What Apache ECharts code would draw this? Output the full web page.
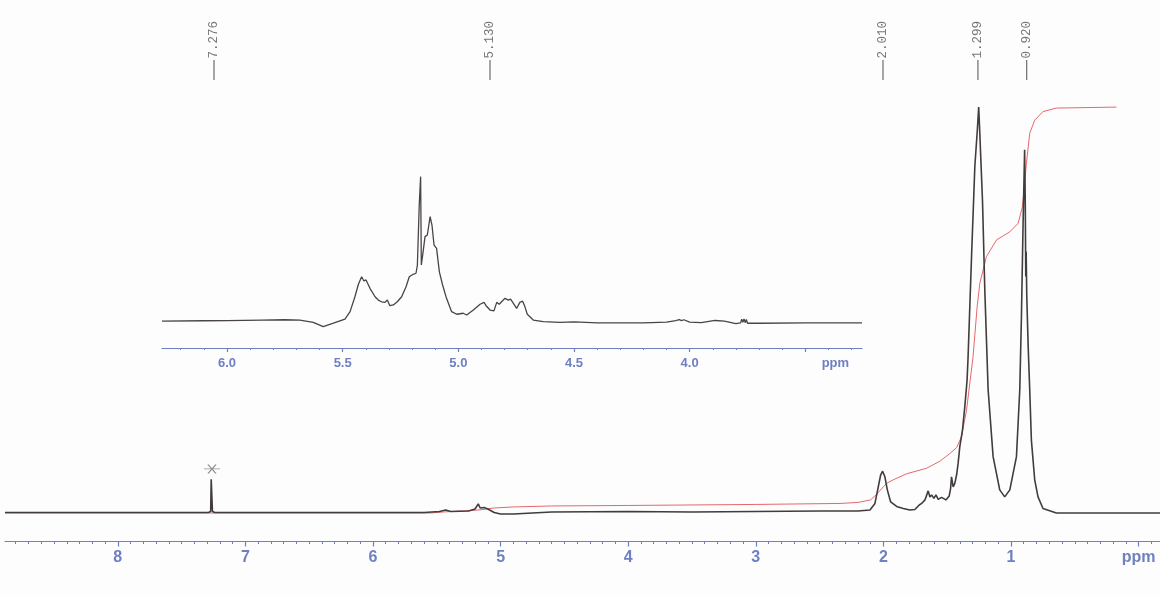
<!DOCTYPE html>
<html>
<head>
<meta charset="utf-8">
<script src="https://cdn.jsdelivr.net/npm/echarts@6/dist/echarts.min.js"></script>
<style>
html,body{margin:0;padding:0;background:#fdfdfd;}
#c{width:1160px;height:597px;}
</style>
</head>
<body>
<div id="c"></div>
<script>
// ---------- DATA ----------
// main 1H spectrum trace: [ppm, intensity]
const mainTrace = [
  [8.884,0.1],[8.0,0.1],[7.4,0.1],[7.29,0.1],[7.272,0.3],[7.268,6.7],[7.262,6.7],[7.258,0.3],[7.24,0.1],
  [6.5,0.1],[6.0,0.1],[5.6,0.1],[5.48,0.3],[5.43,0.6],[5.39,0.3],[5.25,0.4],[5.2,0.8],[5.175,1.8],[5.165,1.8],
  [5.16,1.0],[5.13,1.1],[5.1,0.8],[5.05,0.1],[5.0,-0.2],[4.9,-0.2],[4.6,0.2],[4.0,0.3],[3.5,0.2],[3.0,0.3],
  [2.5,0.4],[2.2,0.4],[2.105,0.6],[2.066,1.9],[2.040,5.2],[2.021,7.6],[2.006,8.3],[1.988,7.2],[1.969,4.6],
  [1.943,2.2],[1.896,1.3],[1.844,0.9],[1.792,0.6],[1.753,0.7],[1.719,1.6],[1.700,1.9],[1.674,2.6],[1.649,4.4],
  [1.635,3.2],[1.622,3.6],[1.604,2.9],[1.588,3.6],[1.570,2.7],[1.544,3.1],[1.510,2.6],[1.484,3.4],[1.473,4.9],
  [1.466,7.2],[1.453,5.2],[1.440,5.9],[1.426,7.6],[1.414,9.9],[1.401,13.2],[1.380,16.5],[1.362,21.1],[1.344,26.4],
  [1.336,31.1],[1.309,51.0],[1.283,69.0],[1.264,76.0],[1.253,80.7],[1.245,76.0],[1.223,62.0],[1.205,44.3],
  [1.179,24.5],[1.140,11.2],[1.088,4.6],[1.049,3.2],[1.009,4.6],[0.957,11.2],[0.931,24.5],[0.918,39.0],
  [0.905,57.6],[0.893,72.2],[0.888,62.0],[0.884,47.0],[0.881,52.0],[0.876,43.0],[0.865,33.0],[0.853,24.5],
  [0.840,14.5],[0.814,6.6],[0.788,3.2],[0.749,0.9],[0.644,0.0],[0.3,0.0],[-0.168,0.0]
];
// integral curve (red): [ppm, value]
const integralCurve = [
  [8.884,0],[5.55,0],[5.45,0.2],[5.3,0.4],[5.17,0.6],[5.05,1.0],[4.9,1.2],[4.6,1.4],[4.0,1.5],[3.0,1.7],
  [2.34,1.9],[2.2,2.1],[2.1,2.6],[2.05,3.8],[2.0,5.2],[1.974,5.9],[1.923,6.6],[1.818,7.8],[1.661,8.9],
  [1.557,10.3],[1.48,11.8],[1.426,13.0],[1.387,15.2],[1.348,20.5],[1.297,31.1],[1.265,41.0],[1.244,45.7],
  [1.192,51.0],[1.113,54.3],[1.009,55.9],[0.944,57.6],[0.910,60.9],[0.879,69.5],[0.853,75.5],[0.814,78.1],
  [0.749,79.8],[0.644,80.5],[0.174,80.7]
];
// expanded inset trace 6.3 - 3.25 ppm: [ppm, intensity]
const insetTrace = [
  [6.281,0.3],[6.1,0.5],[6.0,0.6],[5.85,1.0],[5.75,1.2],[5.685,1.0],[5.627,-0.6],[5.584,-3.6],[5.540,-1.2],
  [5.490,1.7],[5.468,6.8],[5.447,17.1],[5.432,25.7],[5.418,30.9],[5.408,28.0],[5.399,28.7],[5.382,22.9],
  [5.360,17.1],[5.346,14.8],[5.332,13.6],[5.317,13.2],[5.307,14.8],[5.296,10.9],[5.281,11.4],[5.264,13.6],
  [5.245,17.1],[5.226,24.0],[5.212,30.9],[5.195,32.6],[5.183,33.3],[5.177,39.0],[5.169,80.4],[5.163,100],
  [5.160,39.0],[5.154,45.9],[5.144,58.6],[5.134,59.7],[5.122,72.4],[5.114,66.6],[5.105,52.8],[5.094,50.5],
  [5.082,34.3],[5.068,25.2],[5.051,16.0],[5.029,6.8],[5.007,5.0],[4.979,5.7],[4.964,4.5],[4.935,7.9],
  [4.906,11.9],[4.889,13.2],[4.880,10.9],[4.863,7.9],[4.846,7.3],[4.834,13.2],[4.823,11.9],[4.813,13.6],
  [4.798,16.0],[4.784,14.8],[4.774,15.5],[4.762,12.5],[4.748,9.0],[4.734,13.2],[4.722,14.0],[4.712,10.1],
  [4.702,5.0],[4.676,1.0],[4.633,-0.1],[4.561,-0.6],[4.5,-0.3],[4.4,-1.0],[4.2,-1.0],[4.1,-0.5],[4.06,0.6],
  [4.045,1.3],[4.035,0.6],[4.025,1.2],[4.0,-0.4],[3.95,-0.8],[3.89,0.7],[3.85,0.2],[3.80,-1.5],[3.78,-1.0],
  [3.775,1.5],[3.77,-0.5],[3.765,1.8],[3.76,-0.8],[3.755,1.4],[3.75,-1.2],[3.70,-1.2],[3.5,-1.0],[3.255,-1.0]
];
// peak pick labels
const peakLabelPpm = [7.246, 5.083, 2.003, 1.259, 0.877];
const peakLabelText = ['7.276', '5.130', '2.010', '1.299', '0.920'];
// solvent mark (asterisk)
const solventPpm = [7.262];
// axis ticks / labels
const mainTicks = [0, 1, 2, 3, 4, 5, 6, 7, 8];
const insetTicks = [3.5, 4.0, 4.5, 5.0, 5.5, 6.0];
const insetLabels = [4.0, 4.5, 5.0, 5.5, 6.0];
const insetUnitPos = 3.37;

// ---------- LAYOUT ----------
const AX = '#6f80c2';
const mainMin = -0.168, mainMax = 8.884;
const insetMin = 3.255, insetMax = 6.281;
const mainMinor = [];
for (let k = -1; k <= 88; k++) { if (k % 10 !== 0) mainMinor.push(k / 10); }
const insetMinor = [];
for (let k = 33; k <= 62; k++) { if (k % 5 !== 0) insetMinor.push(k / 10); }

const chart = echarts.init(document.getElementById('c'), null, {renderer: 'canvas'});
const option = {
  animation: false,
  backgroundColor: '#fdfdfd',
  grid: [
    {left: 5, right: 0, top: 10, bottom: 55.5},
    {left: 162, right: 298, top: 160, bottom: 249}
  ],
  xAxis: [
    {gridIndex: 0, type: 'value', position: 'bottom', min: mainMin, max: mainMax, inverse: true,
     axisLine: {onZero: false, lineStyle: {color: AX, width: 1.2}},
     axisTick: {customValues: mainTicks, length: 5, lineStyle: {color: AX, width: 1.2}},
     axisLabel: {customValues: mainTicks, margin: 8, color: AX, fontWeight: 'bold', fontSize: 16,
       fontFamily: 'Liberation Sans', formatter: v => v === 0 ? 'ppm' : String(v)},
     splitLine: {show: false}},
    {gridIndex: 0, type: 'value', position: 'bottom', min: mainMin, max: mainMax, inverse: true,
     axisLine: {show: false, onZero: false},
     axisTick: {customValues: mainMinor, length: 2.5, lineStyle: {color: AX, width: 1}},
     axisLabel: {show: false}, splitLine: {show: false}},
    {gridIndex: 1, type: 'value', position: 'bottom', min: insetMin, max: insetMax, inverse: true,
     axisLine: {onZero: false, lineStyle: {color: AX, width: 1.2}},
     axisTick: {customValues: insetTicks, length: 4, lineStyle: {color: AX, width: 1.2}},
     axisLabel: {customValues: insetLabels.concat([insetUnitPos]), margin: 9, color: AX, fontWeight: 'bold',
       fontSize: 13, fontFamily: 'Liberation Sans',
       formatter: v => Math.abs(v - insetUnitPos) < 1e-6 ? 'ppm' : v.toFixed(1)},
     splitLine: {show: false}},
    {gridIndex: 1, type: 'value', position: 'bottom', min: insetMin, max: insetMax, inverse: true,
     axisLine: {show: false, onZero: false},
     axisTick: {customValues: insetMinor, length: 2, lineStyle: {color: AX, width: 1}},
     axisLabel: {show: false}, splitLine: {show: false}}
  ],
  yAxis: [
    {gridIndex: 0, type: 'value', min: -5.666, max: 100, show: false},
    {gridIndex: 1, type: 'value', min: -18.3, max: 111.5, show: false}
  ],
  series: [
    {type: 'line', xAxisIndex: 0, yAxisIndex: 0, data: integralCurve, showSymbol: false, symbol: 'none',
     lineStyle: {color: '#e5686c', width: 1}, z: 2},
    {type: 'line', xAxisIndex: 0, yAxisIndex: 0, data: mainTrace, showSymbol: false, symbol: 'none',
     lineStyle: {color: '#423c3c', width: 1.6}, z: 3},
    {type: 'line', xAxisIndex: 2, yAxisIndex: 1, data: insetTrace, showSymbol: false, symbol: 'none',
     lineStyle: {color: '#4a4444', width: 1.3}, z: 3},
    {type: 'scatter', xAxisIndex: 0, yAxisIndex: 0, symbol: 'rect', symbolSize: [1.3, 20],
     itemStyle: {color: '#555'}, data: peakLabelPpm.map(p => [p, 88.07]), z: 4},
    {type: 'scatter', xAxisIndex: 0, yAxisIndex: 0, symbolSize: 0,
     data: peakLabelPpm.map((p, i) => ({value: [p, 94.1], name: peakLabelText[i]})),
     label: {show: true, position: 'inside', rotate: 90, formatter: p => p.name,
       fontFamily: 'Liberation Mono', fontSize: 12.5, color: '#555', align: 'center', verticalAlign: 'middle'},
     z: 4},
    {type: 'scatter', xAxisIndex: 0, yAxisIndex: 0,
     symbol: 'path://M0,5L12,5M3,0L9,10M9,0L3,10', symbolSize: [16, 9],
     itemStyle: {color: 'none', borderColor: '#777', borderWidth: 1},
     data: solventPpm.map(p => [p, 8.75]), z: 4}
  ]
};
chart.setOption(option);
</script>
</body>
</html>
